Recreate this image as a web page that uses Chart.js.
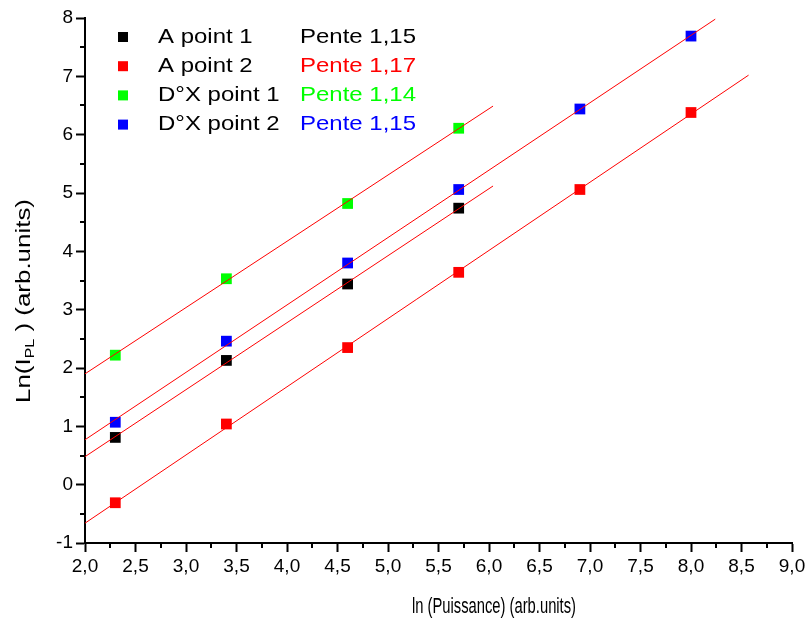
<!DOCTYPE html>
<html>
<head>
<meta charset="utf-8">
<script src="https://cdn.jsdelivr.net/npm/chart.js@4/dist/chart.umd.min.js"></script>
<style>
  html, body { margin: 0; padding: 0; background: #fff; }
  #wrap { width: 809px; height: 624px; }
</style>
</head>
<body>
<div id="wrap"><canvas id="plChart" width="809" height="624"></canvas></div>
<script>
const FONT = "Arial, 'Liberation Sans', sans-serif";

// x values (ln of power)
const powerShort = [2.3, 3.4, 4.6, 5.7];
const powerLong = [2.3, 3.4, 4.6, 5.7, 6.9, 8.0];

// measured ln(I_PL)
const aPoint1 = [0.81, 2.13, 3.44, 4.74];
const aPoint2 = [-0.31, 1.04, 2.35, 3.64, 5.06, 6.38];
const dxPoint1 = [2.22, 3.53, 4.82, 6.11];
const dxPoint2 = [1.07, 2.46, 3.80, 5.06, 6.44, 7.69];

// linear fits: start and end of each red line
const fitA1 = [[2.0, 0.48], [6.04, 5.12]];
const fitA2 = [[2.0, -0.66], [8.57, 7.02]];
const fitDX1 = [[2.0, 1.90], [6.04, 6.49]];
const fitDX2 = [[2.0, 0.77], [8.24, 7.98]];

const seriesNames = ["A point 1", "A point 2", "D°X point 1", "D°X point 2"];
const slopeLabels = ["Pente 1,15", "Pente 1,17", "Pente 1,14", "Pente 1,15"];
const seriesColors = ["#000000", "#ff0000", "#00ff00", "#0000ff"];

const toPoints = (xs, ys) => xs.map((x, i) => ({ x: x, y: ys[i] }));
const fitPoints = f => f.map(p => ({ x: p[0], y: p[1] }));

function fitDataset(f) {
  return {
    data: fitPoints(f),
    showLine: true,
    borderColor: "#ff0000",
    borderWidth: 1,
    pointRadius: 0,
    order: 0
  };
}

function pointDataset(xs, ys, color) {
  return {
    data: toPoints(xs, ys),
    pointStyle: "rect",
    pointRadius: 7.6,
    pointBorderWidth: 0,
    backgroundColor: color,
    borderColor: color,
    showLine: false,
    order: 1
  };
}

// short ticks between the labelled ones
const minorTicks = {
  id: "minorTicks",
  afterDraw(chart) {
    const { ctx, chartArea, scales } = chart;
    const x = scales.x, y = scales.y;
    ctx.save();
    ctx.strokeStyle = "#000";
    ctx.lineWidth = 2;
    ctx.beginPath();
    for (let i = 0; i < x.ticks.length - 1; i++) {
      const px = Math.round(x.getPixelForValue((x.ticks[i].value + x.ticks[i + 1].value) / 2));
      ctx.moveTo(px, chartArea.bottom);
      ctx.lineTo(px, chartArea.bottom + 5);
    }
    for (let i = 0; i < y.ticks.length - 1; i++) {
      const py = Math.round(y.getPixelForValue((y.ticks[i].value + y.ticks[i + 1].value) / 2));
      ctx.moveTo(chartArea.left, py);
      ctx.lineTo(chartArea.left - 5, py);
    }
    ctx.stroke();
    ctx.restore();
  }
};

const axisTitles = {
  id: "axisTitles",
  afterDraw(chart) {
    const ctx = chart.ctx;
    ctx.save();
    ctx.fillStyle = "#000";
    ctx.textBaseline = "middle";

    // x title, squeezed to the reference width
    ctx.font = "21.5px " + FONT;
    const xt = "ln (Puissance) (arb.units)";
    const xw = ctx.measureText(xt).width;
    ctx.save();
    ctx.translate(494, 607);
    ctx.scale(164 / xw, 1);
    ctx.textAlign = "center";
    ctx.fillText(xt, 0, 0);
    ctx.restore();

    // y title with subscript
    const big = "21px " + FONT, small = "13px " + FONT;
    const parts = [["Ln(I", big, 0], ["PL", small, 6], [" ) (arb.units)", big, 0]];
    let total = 0;
    parts.forEach(p => { ctx.font = p[1]; total += ctx.measureText(p[0]).width; });
    const s = 204 / total;
    ctx.save();
    ctx.translate(24, 301);
    ctx.rotate(-Math.PI / 2);
    ctx.scale(s, 1);
    ctx.textAlign = "left";
    let cx = -total / 2;
    parts.forEach(p => {
      ctx.font = p[1];
      ctx.fillText(p[0], cx, p[2]);
      cx += ctx.measureText(p[0]).width;
    });
    ctx.restore();
    ctx.restore();
  }
};

const legendBox = {
  id: "legendBox",
  afterDraw(chart) {
    const ctx = chart.ctx;
    ctx.save();
    ctx.font = "21px " + FONT;
    ctx.textBaseline = "middle";
    const s = 116 / ctx.measureText(slopeLabels[0]).width;
    seriesNames.forEach((name, i) => {
      const yy = 37 + i * 29.2;
      ctx.fillStyle = seriesColors[i];
      ctx.fillRect(118, yy - 5, 10, 10);
      ctx.save();
      ctx.translate(158, yy);
      ctx.scale(s, 1);
      ctx.fillStyle = "#000";
      ctx.fillText(name, 0, 0);
      ctx.restore();
      ctx.save();
      ctx.translate(300, yy);
      ctx.scale(s, 1);
      ctx.fillStyle = seriesColors[i];
      ctx.fillText(slopeLabels[i], 0, 0);
      ctx.restore();
    });
    ctx.restore();
  }
};

const tickFont = { size: 19, family: FONT };

new Chart(document.getElementById("plChart"), {
  type: "scatter",
  data: {
    datasets: [
      fitDataset(fitA1),
      fitDataset(fitA2),
      fitDataset(fitDX1),
      fitDataset(fitDX2),
      pointDataset(powerShort, aPoint1, seriesColors[0]),
      pointDataset(powerLong, aPoint2, seriesColors[1]),
      pointDataset(powerShort, dxPoint1, seriesColors[2]),
      pointDataset(powerLong, dxPoint2, seriesColors[3])
    ]
  },
  options: {
    responsive: false,
    animation: false,
    devicePixelRatio: 1,
    layout: { padding: { top: 18, right: 17, left: 0, bottom: 0 } },
    plugins: {
      legend: { display: false },
      tooltip: { enabled: false }
    },
    scales: {
      x: {
        type: "linear",
        min: 2,
        max: 9,
        afterFit: s => { s.height = 81; },
        ticks: {
          stepSize: 0.5,
          autoSkip: false,
          maxRotation: 0,
          padding: 3,
          color: "#000",
          font: tickFont,
          callback: v => v.toFixed(1).replace(".", ",")
        },
        grid: { drawOnChartArea: false, tickLength: 9, tickWidth: 2, tickColor: "#000" },
        border: { color: "#000", width: 2 }
      },
      y: {
        min: -1,
        max: 8,
        afterFit: s => { s.width = 85; },
        ticks: {
          stepSize: 1,
          padding: 3,
          color: "#000",
          font: tickFont
        },
        grid: { drawOnChartArea: false, tickLength: 9, tickWidth: 2, tickColor: "#000" },
        border: { color: "#000", width: 2 }
      }
    }
  },
  plugins: [minorTicks, axisTitles, legendBox]
});
</script>
</body>
</html>
